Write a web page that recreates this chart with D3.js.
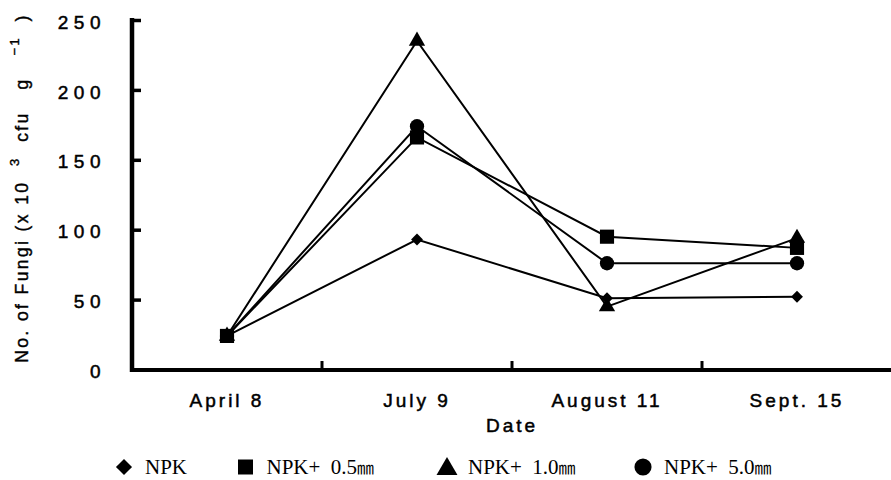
<!DOCTYPE html>
<html>
<head>
<meta charset="utf-8">
<script src="https://cdn.jsdelivr.net/npm/d3@7"></script>
<style>
  html, body { margin: 0; padding: 0; background: #fff; }
  svg { display: block; }
</style>
</head>
<body>
<svg id="chart" width="891" height="480"></svg>
<script>
const categories = ["April 8", "July 9", "August 11", "Sept. 15"];
const seriesNames = ["NPK", "NPK+  0.5㎜", "NPK+  1.0㎜", "NPK+  5.0㎜"];
const npk      = [24, 93, 51, 52];
const npk05    = [24, 166, 95, 87];
const npk10    = [24, 235, 45, 94];
const npk50    = [24, 174, 76, 76];
const yTicks   = [0, 50, 100, 150, 200, 250];
const symbols  = ["diamond", "square", "triangle", "circle"];

const allSeries = [npk, npk05, npk10, npk50];

const svg = d3.select("#chart");
const x = d3.scaleBand().domain(categories).range([132, 892]).padding(0);
const y = d3.scaleLinear().domain([0, 250]).range([369.5, 20]);

const symType = {
  diamond: d3.symbolDiamond2 || d3.symbolDiamond,
  square: d3.symbolSquare,
  triangle: d3.symbolTriangle,
  circle: d3.symbolCircle
};
const symSize = { diamond: 90, square: 200, triangle: 115, circle: 160 };
const legSize = { diamond: 165, square: 225, triangle: 190, circle: 230 };
const sans = "Liberation Sans, Arial, Helvetica, sans-serif";

// Lines
const cx = i => x(categories[i]) + x.bandwidth() / 2;
const line = d3.line().x((d, i) => cx(i)).y(d => y(d));
const g = svg.append("g");
allSeries.forEach(s => {
  g.append("path").attr("d", line(s)).attr("fill", "none")
    .attr("stroke", "#000").attr("stroke-width", 2);
});
// markers, square drawn last
[0, 2, 3, 1].forEach(k => {
  g.selectAll(null).data(allSeries[k]).enter().append("path")
    .attr("d", d3.symbol().type(symType[symbols[k]]).size(symSize[symbols[k]]))
    .attr("transform", (d, i) => `translate(${cx(i)},${y(d)})`)
    .attr("fill", "#000");
});

// Y axis
const yAxis = d3.axisLeft(y).tickValues(yTicks).tickSizeInner(-9).tickSizeOuter(0).tickPadding(26);
const ya = svg.append("g").attr("transform", "translate(132,0)").call(yAxis);
ya.select(".domain").attr("stroke-width", 4.5).attr("d", "M0,18V372");
ya.selectAll(".tick line").attr("stroke-width", 3.5);
ya.selectAll(".tick").filter(d => d === 0).select("line").remove();
ya.selectAll(".tick text")
  .attr("font-family", sans)
  .attr("font-size", 19).attr("letter-spacing", 5.5).attr("fill", "#000")
  .attr("stroke", "#000").attr("stroke-width", 0.5)
  .attr("dy", "0.43em");

// X axis (labels)
const xAxis = d3.axisBottom(x).tickSize(0).tickPadding(23.5);
const xa = svg.append("g").attr("transform", "translate(0,370)").call(xAxis);
xa.select(".domain").attr("stroke-width", 4).attr("d", "M130,0H891");
xa.selectAll(".tick text")
  .attr("font-family", sans)
  .attr("font-size", 19).attr("letter-spacing", 3).attr("fill", "#000")
  .attr("stroke", "#000").attr("stroke-width", 0.5);

// boundary ticks
svg.append("g").selectAll("line").data(categories.slice(0, 3)).enter().append("line")
  .attr("x1", d => x(d) + x.bandwidth()).attr("x2", d => x(d) + x.bandwidth())
  .attr("y1", 370).attr("y2", 361).attr("stroke", "#000").attr("stroke-width", 3);

// X title
svg.append("text").attr("x", 512).attr("y", 432).attr("text-anchor", "middle")
  .attr("font-family", sans).attr("stroke", "#000").attr("stroke-width", 0.5)
  .attr("font-size", 19).attr("letter-spacing", 3).text("Date");

// Y title
const yt = svg.append("text").attr("transform", "translate(28,188) rotate(-90)")
  .attr("text-anchor", "middle")
  .attr("font-family", sans).attr("stroke", "#000").attr("stroke-width", 0.4)
  .attr("font-size", 17.5).attr("letter-spacing", 2.4).attr("xml:space", "preserve");
yt.append("tspan").text("No. of Fungi (x 10  ");
yt.append("tspan").attr("font-size", 13).attr("dy", -9).text("3");
yt.append("tspan").attr("dy", 9).text("  cfu   g   ");
yt.append("tspan").attr("font-size", 13).attr("dy", -9).text("−1");
yt.append("tspan").attr("dy", 9).text("  )");

// Legend
const legendX = [124, 245.5, 447, 643];
const lg = svg.append("g");
seriesNames.forEach((n, k) => {
  lg.append("path")
    .attr("d", d3.symbol().type(symType[symbols[k]]).size(legSize[symbols[k]]))
    .attr("transform", `translate(${legendX[k]},${k === 2 ? 469 : 467})`)
    .attr("fill", "#000");
  const t = lg.append("text").attr("x", legendX[k] + 21).attr("y", 474)
    .attr("font-family", "Liberation Serif, Times New Roman, serif")
    .attr("font-size", 21).attr("xml:space", "preserve");
  const parts = n.split("㎜");
  t.append("tspan").text(parts[0]);
  if (parts.length > 1) {
    t.append("tspan").attr("font-family", "Noto Sans CJK KR, sans-serif")
      .attr("font-size", 17).text("㎜");
  }
});
</script>
</body>
</html>
